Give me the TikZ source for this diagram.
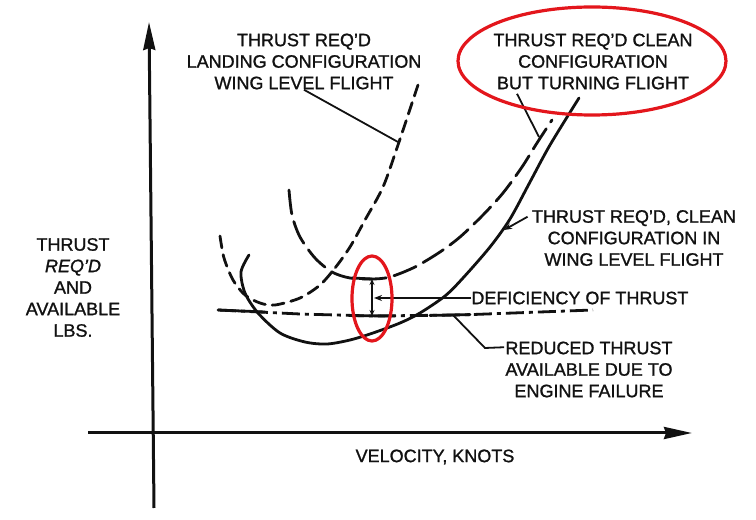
\documentclass[tikz,border=0pt]{standalone}
\usepackage{fontspec}
\setmainfont{Liberation Sans}[FakeBold=1.2]
\usepackage{xcolor}
\usetikzlibrary{arrows.meta}
\definecolor{markRed}{HTML}{E3161C}
\definecolor{inkBlack}{HTML}{111111}

\begin{document}
\begin{tikzpicture}[x=0.5pt,y=0.5pt]
    \tikzset{
        axis/.style={inkBlack,line width=1.5pt,-{Stealth[length=14pt,width=6pt,inset=1pt]}},
        curve/.style={inkBlack,line width=1.4pt,line cap=round},
        landdash/.style={curve,dash pattern=on 6pt off 3.5pt},
        turndash/.style={curve,dash pattern=on 12pt off 4pt},
        availdash/.style={curve,line cap=butt,dash pattern=on 9pt off 2.5pt on 2pt off 2.5pt},
        leader/.style={inkBlack,line width=0.9pt},
        tip/.style={-{Stealth[length=4pt,width=3pt]}},
        label/.style={inner sep=0pt,align=center,text=inkBlack,font=\fontsize{9}{10.75}\selectfont},
        ring/.style={markRed,line width=1.6pt}
    }
    \useasboundingbox (0,0) rectangle (756,520);

    \coordinate (yBot) at (154,12);
    \coordinate (yTop) at (149,498);
    \coordinate (xLeft) at (88,87);
    \coordinate (xRight) at (692,87);
    \draw[axis] (yBot) -- (yTop);
    \draw[axis] (xLeft) -- (xRight);

    \node[label] (axistxt) at (73,232.5) {\fontsize{9}{10.5}\selectfont THRUST\\ \textit{REQ'D}\\ AND\\ AVAILABLE\\ LBS.};
    \node[label] (veltxt) at (435,63) {VELOCITY, KNOTS};
    \node[label] (landtxt) at (304,458.5) {THRUST REQ'D\\ LANDING CONFIGURATION\\ WING LEVEL FLIGHT};
    \node[label] (turntxt) at (593,458.5) {THRUST REQ'D CLEAN\\ CONFIGURATION\\ BUT TURNING FLIGHT};
    \node[label] (wingtxt) at (634,282) {\fontsize{9}{10}\selectfont THRUST REQ'D, CLEAN\\ CONFIGURATION IN\\ WING LEVEL FLIGHT};
    \node[label,anchor=west] (deftxt) at (471,222) {DEFICIENCY OF THRUST};
    \node[label] (redtxt) at (589,150.5) {\fontsize{9}{9.5}\selectfont REDUCED THRUST\\ AVAILABLE DUE TO\\ ENGINE FAILURE};

    \draw[landdash] plot[smooth] coordinates {(220,284) (224,262) (233,240) (245,225) (260,217) (275,215) (300,222) (320,235) (335,252) (350,273) (365,300) (383,333) (398,375) (418,435)};
    \draw[turndash] plot[smooth] coordinates {(289,330) (292,305) (300,283) (315,262) (332,248) (350,242) (372,241) (390,243) (415,253) (440,268) (460,283) (483,305) (503,327) (522,353) (537,377) (552,400)};
    \draw[curve] plot[smooth] coordinates {(249,265) (241,248) (245,227) (258,207) (280,187) (305,178) (327,176) (350,180) (373,187) (400,197) (420,207) (445,224) (463,242) (490,273) (510,301) (530,338) (550,375) (579,422)};

    \draw[availdash] (218,210) -- (300,206) -- (372,204) -- (460,205) -- (593,210);
    \draw[curve] (218,210) -- (265,208);
    \draw[curve] (352,204.3) -- (395,204);
    \draw[curve] (430,204.6) -- (470,205.4);

    \coordinate (defTop) at (372,241);
    \coordinate (defBot) at (372,204);
    \draw[curve] (352,242) -- (defTop);
    \draw[leader,{Stealth[length=3pt,width=2.5pt]}-{Stealth[length=3pt,width=2.5pt]}] (defTop) -- (defBot);

    \coordinate (landpt) at (398,378);
    \coordinate (turnpt) at (539,383);
    \coordinate (wingpt) at (504,290);
    \coordinate (defpt) at (374,222);
    \coordinate (redpt) at (453,205);
    \coordinate (redbend) at (485,172);
    \draw[leader] (landtxt.south) -- (landpt);
    \draw[leader] ([shift={(-76,-4)}]turntxt.south) -- (turnpt);
    \draw[leader,tip] ([shift={(-4,-7)}]wingtxt.north west) -- (wingpt);
    \draw[leader,tip] (deftxt.west) -- (defpt);
    \draw[leader] (redpt) -- (redbend) -- ([shift={(-1,-6)}]redtxt.north west);

    \draw[ring] (372,221.5) ellipse [x radius=20,y radius=42.5];
    \draw[ring] (592,459) ellipse [x radius=134,y radius=54];
\end{tikzpicture}
\end{document}
